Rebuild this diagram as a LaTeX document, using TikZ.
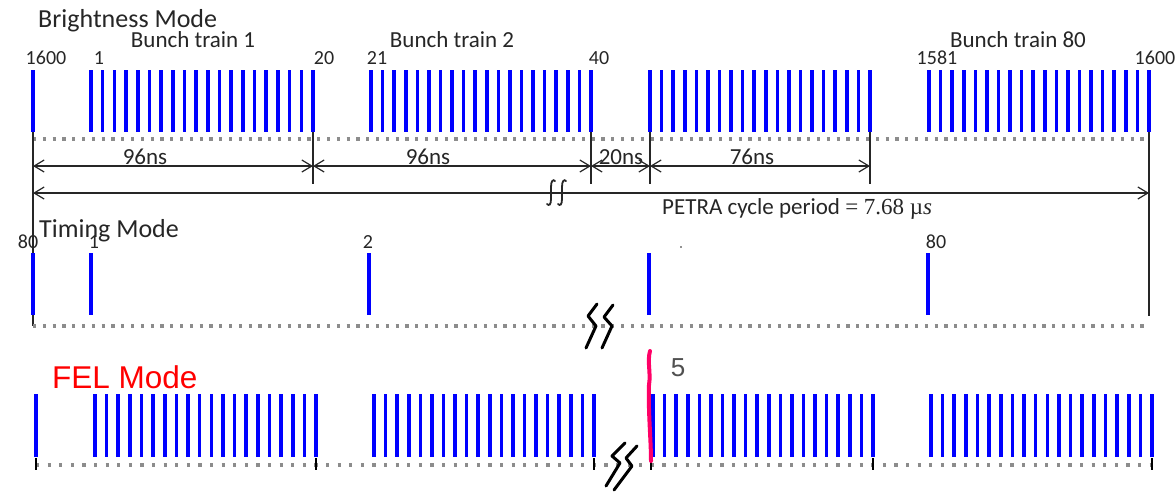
\documentclass[tikz,border=0pt]{standalone}
\usepackage{fontspec}
\setmainfont{Carlito}
\newfontfamily\arialf{Liberation Sans}
\newfontfamily\serifm{Liberation Serif}
\usetikzlibrary{arrows.meta}
\definecolor{barblue}{RGB}{0,0,255}
\definecolor{dotgray}{RGB}{140,140,140}
\definecolor{txt}{RGB}{38,38,38}
\definecolor{felred}{RGB}{255,0,0}
\definecolor{wavered}{RGB}{255,0,102}
\definecolor{fivegray}{RGB}{80,80,80}
\tikzset{
  bar/.style={barblue, line width=3.6pt},
  dotrow/.style={dotgray, line width=3.2pt, dash pattern=on 3.2pt off 6.6pt},
  felrow/.style={dotgray, line width=3.2pt, dash pattern=on 3.2pt off 8.4pt},
  dimline/.style={txt, line width=1.2pt},
  dimarrow/.style={txt, line width=1.2pt, {Straight Barb[length=10pt,width=12pt]}-{Straight Barb[length=10pt,width=12pt]}},
  onearrow/.style={txt, line width=1.2pt, {Straight Barb[length=10pt,width=12pt]}-{Straight Barb[length=10pt,width=12pt]}},
  modetitle/.style={font=\fontsize{26}{30}\selectfont, text=txt, inner sep=0pt, anchor=base west},
  traintitle/.style={font=\fontsize{23}{27}\selectfont, text=txt, inner sep=0pt},
  num/.style={font=\fontsize{20}{24}\selectfont, text=txt, inner sep=0pt},
  nslabel/.style={font=\fontsize{23}{27}\selectfont, text=txt, inner sep=0pt},
  zig/.style={black, line width=3pt, line join=round, line cap=round},
  integ/.style={txt, line width=1.8pt, line cap=round},
  tick/.style={black, line width=1.4pt},
}
\begin{document}
\begin{tikzpicture}[x=1pt,y=-1pt]
\useasboundingbox[fill=white] (0,0) rectangle (1176,491);

% ---------------- Brightness mode ----------------
\node[modetitle] (tBright) at (38,27) {Brightness Mode};
\node[traintitle] (bt1) at (193,40) {Bunch train 1};
\node[traintitle] (bt2) at (452,40) {Bunch train 2};
\node[traintitle] (bt80) at (1018,40) {Bunch train 80};
\node[num] (n1600a) at (46,58) {1600};
\node[num] (n1) at (99,58) {1};
\node[num] (n20) at (324,58) {20};
\node[num] (n21) at (377,58) {21};
\node[num] (n40) at (599,58) {40};
\node[num] (n1581) at (937,58) {1581};
\node[num] (n1600b) at (1155,58) {1600};

\draw[dotrow] (33,139) -- (1149,139);
\draw[bar] (33,70) -- (33,132);
\foreach \a/\b in {91/313,371/591,650/870,929/1149}{
  \foreach \i in {0,...,19}{
    \draw[bar] ({\a+\i*(\b-\a)/19},70) -- ++(0,62);
  }
}

% dimension lines
\draw[dimline] (33,132) -- (33,326);
\draw[dimline] (313,132) -- (313,184);
\draw[dimline] (591,132) -- (591,184);
\draw[dimline] (650,132) -- (650,184);
\draw[dimline] (870,132) -- (870,184);
\draw[dimline] (1149,132) -- (1149,316);

\coordinate (a0) at (33,166);
\coordinate (a1) at (313,166);
\coordinate (a2) at (591,166);
\coordinate (a3) at (650,166);
\coordinate (a4) at (870,166);
\coordinate (p0) at (33,193);
\coordinate (p1) at (1149,193);
\draw[dimarrow] (a0) -- (a1);
\draw[dimarrow] (a1) -- (a2);
\draw[dimarrow] (a2) -- (a3);
\draw[dimarrow] (a3) -- (a4);
\draw[onearrow] (p0) -- (p1);

\node[nslabel] (l96a) at (145,157) {96ns};
\node[nslabel] (l96b) at (428,157) {96ns};
\node[nslabel] (l20) at (621,157) {20ns};
\node[nslabel] (l76) at (752,157) {76ns};
% break mark on the period arrow (two integral-like strokes)
\foreach \x in {551,562}{
  \draw[integ] (\x+4,181) .. controls (\x+2,179) and (\x,181) .. (\x,187)
    -- (\x,199) .. controls (\x,205) and (\x-2,206) .. (\x-4,204);
}
\node[font=\fontsize{23}{27}\selectfont, text=txt, inner sep=0pt, anchor=base west] (petra) at (662,214)
  {PETRA cycle period {\serifm = 7.68 µ\textit{s}}};

% ---------------- Timing mode ----------------
\node[modetitle] (tTiming) at (39,237) {Timing Mode};
\node[num] (t80a) at (28,242) {80};
\node[num] (t1) at (94,242) {1};
\node[num] (t2) at (368,242) {2};
\node[num] (t80b) at (936,242) {80};
\draw[dotrow] (33,326) -- (1149,326);
\foreach \x in {33,91,369,649,928}{
  \draw[bar] (\x,253) -- (\x,315);
}
\fill[txt] (681,247) circle (0.9);
\draw[zig] (597,304) -- (588,316) -- (596,326) -- (586,348);
\draw[zig] (613,305) -- (604,317) -- (612,326) -- (602,348);

% ---------------- FEL mode ----------------
\node[font=\arialf\fontsize{31.5}{36}\selectfont, text=felred, inner sep=0pt, anchor=base west] (tFEL) at (52,388) {FEL Mode};
\draw[felrow] (36,465) -- (1152,465);
\draw[bar] (36,394) -- (36,457);
\foreach \a/\b in {95/316,374/594,653/873,931/1152}{
  \foreach \i in {0,...,19}{
    \draw[bar] ({\a+\i*(\b-\a)/19},394) -- ++(0,63);
  }
}
\foreach \x in {36,316,594,651,873,1152}{
  \draw[tick] (\x,458) -- (\x,470);
}
\draw[wavered, line width=4pt, line cap=round] (650,351) .. controls (647,362) and (651,372) .. (649,385)
  .. controls (648,410) and (651,440) .. (651,461);
\node[font=\arialf\fontsize{26}{30}\selectfont, text=fivegray, inner sep=0pt] (five) at (678,368) {5};
\draw[zig] (625,443) -- (612,456) -- (620,463) -- (606,486);
\draw[zig] (637,446) -- (626,458) -- (632,466) -- (614,490);
\end{tikzpicture}
\end{document}
